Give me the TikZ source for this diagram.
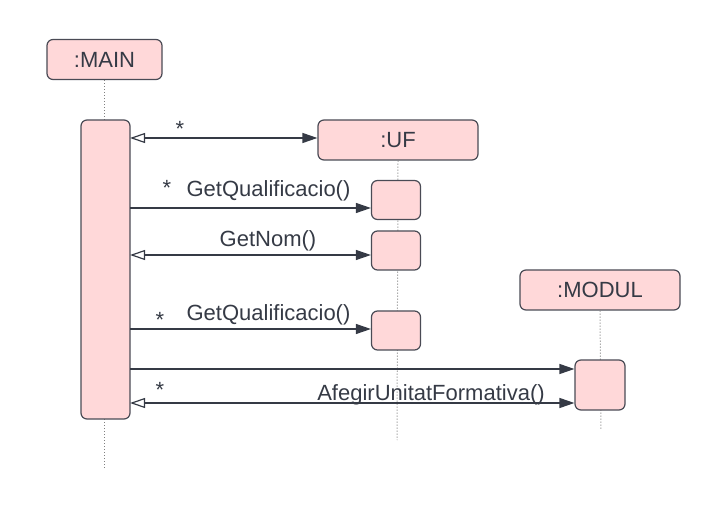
\documentclass[tikz,border=0pt]{standalone}
\usepackage{fontspec}
\setmainfont{Liberation Sans}
\usetikzlibrary{arrows.meta,positioning}
\definecolor{boxpink}{HTML}{FFD8D9}
\definecolor{boxline}{HTML}{4A4B55}
\definecolor{ink}{HTML}{353A45}

\begin{document}
\begin{tikzpicture}
[x=1pt,y=-1pt,font=\fontsize{22}{26}\selectfont,
 obj/.style = {draw=boxline, fill=boxpink, line width=1.2pt, rounded corners=6pt, minimum width=160pt, minimum height=40pt, inner sep=0pt, text=ink},
 act/.style = {draw=boxline, fill=boxpink, line width=1.2pt, rounded corners=6pt, minimum width=49pt, inner sep=0pt},
 life/.style = {draw=gray, line width=1pt, dotted},
 msg/.style = {draw=ink, line width=1.2pt, -{Triangle[length=15pt,width=10pt]}},
 ret/.style = {draw=ink, line width=1.2pt, {Triangle[open,length=15pt,width=10pt]}-{Triangle[length=15pt,width=10pt]}},
 lbl/.style = {anchor=base, text=ink, inner sep=0pt},]
\useasboundingbox (0,0) rectangle (720,510);
% objects
\node (main) at (104.5,59.5)[obj,minimum width=115pt] {:MAIN};
\node (uf) at (398,140)[obj] {:UF};
\node (modul) at (600,290)[obj] {:MODUL};
% lifelines
\coordinate (mainend) at (104.5,470);
\coordinate (ufend) at (397,440);
\coordinate (modulend) at (601,430);
\draw[life] (main.south) -- (mainend);
\draw[life] (uf.south) -- (ufend);
\draw[life] (modul.south) -- (modulend);
% activations
\node (mainact) at (105.5,269.5)[act,minimum height=299pt] {};
\node (uf1) at (396,200)[act,minimum height=39pt] {};
\node (uf2) at (396,250.5)[act,minimum height=39pt] {};
\node (uf3) at (396,330.5)[act,minimum height=39pt] {};
\node (modact) at (600,385)[act,minimum height=50pt,minimum width=50pt] {};
% messages
\coordinate (m1) at (130,138);
\coordinate (m2) at (130,208);
\coordinate (m3) at (130,255);
\coordinate (m4) at (130,329);
\coordinate (m5) at (130,369);
\coordinate (m6) at (130,403);
\draw[ret] (m1) -- (m1 -| uf.west);
\draw[msg] (m2) -- (m2 -| uf1.west);
\draw[ret] (m3) -- (m3 -| uf2.west);
\draw[msg] (m4) -- (m4 -| uf3.west);
\draw[msg] (m5) -- (m5 -| modact.west);
\draw[ret] (m6) -- (m6 -| modact.west);
% labels
\node (s1) at (180,137)[lbl] {*};
\node (s2) at (167,196)[lbl] {*};
\node (q1) at (268.5,197)[lbl] {GetQualificacio()};
\node (nom) at (268,247)[lbl] {GetNom()};
\node (s4) at (160,328)[lbl] {*};
\node (q2) at (268.5,321)[lbl] {GetQualificacio()};
\node (s6) at (160,398)[lbl] {*};
\node (afg) at (431,400)[lbl] {AfegirUnitatFormativa()};
\end{tikzpicture}
\end{document}
